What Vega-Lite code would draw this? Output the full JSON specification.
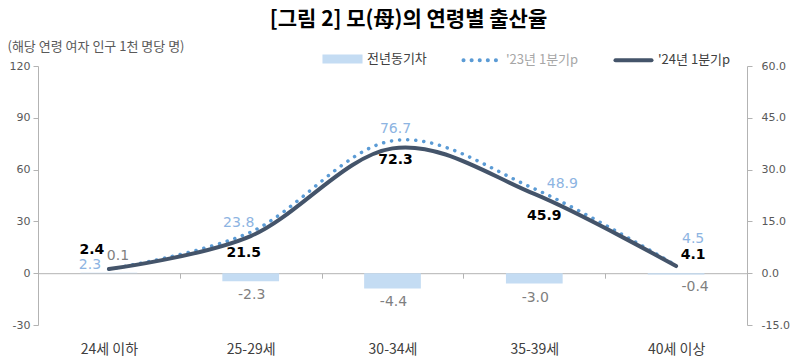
{
  "$schema": "https://vega.github.io/schema/vega-lite/v6.json",
  "width": 709,
  "height": 259,
  "autosize": {"type": "none"},
  "padding": {"left": 38, "top": 66, "right": 50, "bottom": 36},
  "background": "white",
  "title": {"text": "[그림 2] 모(母)의 연령별 출산율", "font": "Noto Sans CJK KR", "fontSize": 21, "fontWeight": "bold", "color": "#000000", "anchor": "middle", "frame": "group", "dx": 16, "offset": 8},
  "data": {"values": [
    {"cat": "24세 이하", "y23": 2.3, "y24": 2.4, "diff": 0.1},
    {"cat": "25-29세", "y23": 23.8, "y24": 21.5, "diff": -2.3},
    {"cat": "30-34세", "y23": 76.7, "y24": 72.3, "diff": -4.4},
    {"cat": "35-39세", "y23": 48.9, "y24": 45.9, "diff": -3.0},
    {"cat": "40세 이상", "y23": 4.5, "y24": 4.1, "diff": -0.4}
  ]},
  "encoding": {
    "x": {"field": "cat", "type": "nominal", "sort": null,
      "scale": {"paddingInner": 0, "paddingOuter": 0},
      "axis": {"title": null, "domainColor": "#b3b3b3", "ticks": true, "tickBand": "extent", "tickSize": 5, "tickColor": "#b3b3b3", "offset": -51.8, "labelPadding": 64, "labelFont": "Noto Sans CJK KR", "labelFontSize": 14, "labelColor": "#404040", "labelAngle": 0}}
  },
  "layer": [
    {
      "encoding": {"y": {"field": "diff", "type": "quantitative", "scale": {"domain": [-15, 60], "nice": false},
        "axis": {"orient": "right", "values": [-15, 0, 15, 30, 45, 60], "format": ".1f", "title": null, "grid": false, "domainColor": "#b3b3b3", "tickColor": "#b3b3b3", "tickSize": 5, "labelFont": "DejaVu Sans", "labelFontSize": 11, "labelColor": "#595959", "labelPadding": 9}}},
      "layer": [
        {"mark": {"type": "bar", "width": {"band": 0.4}},
         "encoding": {"color": {"datum": "전년동기차",
           "scale": {"domain": ["전년동기차", "'23년 1분기p", "'24년 1분기p"], "range": ["#c4dcf3", "#5b9bd5", "#44546a"]},
           "legend": {"orient": "none", "legendX": 284, "legendY": -28, "direction": "horizontal", "title": null,
             "symbolType": "stroke", "symbolSize": 1300, "symbolStrokeWidth": 4,
             "labelFont": "Noto Sans CJK KR", "labelFontSize": 13, "labelColor": "#404040", "labelOffset": 4, "columnPadding": 28,
             "encode": {
               "symbols": {"update": {
                 "shape": {"signal": "datum.value === '전년동기차' ? 'M-1,-0.14H1V0.14H-1Z' : 'stroke'"},
                 "fill": {"signal": "datum.value === '전년동기차' ? '#c4dcf3' : 'transparent'"},
                 "stroke": {"signal": "indexof(datum.value, '23') >= 0 ? '#5b9bd5' : (indexof(datum.value, '24') >= 0 ? '#44546a' : 'transparent')"},
                 "strokeDash": {"signal": "indexof(datum.value, '23') >= 0 ? [0.1, 8] : []"},
                 "strokeCap": {"value": "round"},
                 "strokeWidth": {"value": 4},
                 "opacity": {"value": 1}
               }},
               "labels": {"update": {"fill": {"signal": "indexof(datum.value, '23') >= 0 ? '#a6a6a6' : '#404040'"}}}
             }}}}},
        {"transform": [{"filter": "datum.diff >= 0"}],
         "mark": {"type": "text", "dx": 9, "dy": -17, "font": "DejaVu Sans", "fontSize": 14, "color": "#7f7f7f"},
         "encoding": {"text": {"field": "diff", "format": ".1f"}}},
        {"transform": [{"filter": "datum.diff < 0 && datum.diff > -1"}],
         "mark": {"type": "text", "dx": 19, "dy": 12, "font": "DejaVu Sans", "fontSize": 14, "color": "#7f7f7f"},
         "encoding": {"text": {"field": "diff", "format": ".1f"}}},
        {"transform": [{"filter": "datum.diff <= -1"}],
         "mark": {"type": "text", "dx": 1, "dy": 14, "font": "DejaVu Sans", "fontSize": 14, "color": "#7f7f7f"},
         "encoding": {"text": {"field": "diff", "format": ".1f"}}}
      ]
    },
    {
      "layer": [
        {"mark": {"type": "line", "interpolate": "cardinal", "strokeWidth": 3.5, "strokeDash": [0.1, 8], "strokeCap": "round"},
         "encoding": {"y": {"field": "y23", "type": "quantitative", "title": "(해당 연령 여자 인구 1천 명당 명)", "scale": {"domain": [-30, 120], "nice": false},
           "axis": {"values": [-30, 0, 30, 60, 90, 120], "titleAngle": 0, "titleX": -31, "titleY": -20, "titleAlign": "left", "titleBaseline": "middle", "titleFont": "Noto Sans CJK KR", "titleFontSize": 13, "titleFontWeight": "normal", "titleColor": "#595959", "grid": false, "domainColor": "#b3b3b3", "tickColor": "#b3b3b3", "tickSize": 5, "labelFont": "DejaVu Sans", "labelFontSize": 11, "labelColor": "#595959", "labelPadding": 3}},
           "color": {"datum": "'23년 1분기p"}}},
        {"mark": {"type": "line", "interpolate": "cardinal", "strokeWidth": 4, "strokeCap": "round"},
         "encoding": {"y": {"field": "y24", "type": "quantitative", "title": "(해당 연령 여자 인구 1천 명당 명)"},
           "color": {"datum": "'24년 1분기p"}}},
        {"transform": [{"filter": "datum.cat === '24세 이하'"}],
         "mark": {"type": "text", "dx": -17, "dy": -19, "font": "DejaVu Sans", "fontSize": 14, "fontWeight": "bold", "color": "#000000"},
         "encoding": {"y": {"field": "y24", "type": "quantitative", "title": "(해당 연령 여자 인구 1천 명당 명)"}, "text": {"field": "y24", "format": ".1f"}}},
        {"transform": [{"filter": "datum.cat === '25-29세'"}],
         "mark": {"type": "text", "dx": -7, "dy": 17, "font": "DejaVu Sans", "fontSize": 14, "fontWeight": "bold", "color": "#000000"},
         "encoding": {"y": {"field": "y24", "type": "quantitative", "title": "(해당 연령 여자 인구 1천 명당 명)"}, "text": {"field": "y24", "format": ".1f"}}},
        {"transform": [{"filter": "datum.cat === '30-34세'"}],
         "mark": {"type": "text", "dx": 3, "dy": 12, "font": "DejaVu Sans", "fontSize": 14, "fontWeight": "bold", "color": "#000000"},
         "encoding": {"y": {"field": "y24", "type": "quantitative", "title": "(해당 연령 여자 인구 1천 명당 명)"}, "text": {"field": "y24", "format": ".1f"}}},
        {"transform": [{"filter": "datum.cat === '35-39세'"}],
         "mark": {"type": "text", "dx": 10, "dy": 22, "font": "DejaVu Sans", "fontSize": 14, "fontWeight": "bold", "color": "#000000"},
         "encoding": {"y": {"field": "y24", "type": "quantitative", "title": "(해당 연령 여자 인구 1천 명당 명)"}, "text": {"field": "y24", "format": ".1f"}}},
        {"transform": [{"filter": "datum.cat === '40세 이상'"}],
         "mark": {"type": "text", "dx": 17, "dy": -11, "font": "DejaVu Sans", "fontSize": 14, "fontWeight": "bold", "color": "#000000"},
         "encoding": {"y": {"field": "y24", "type": "quantitative", "title": "(해당 연령 여자 인구 1천 명당 명)"}, "text": {"field": "y24", "format": ".1f"}}},
        {"transform": [{"filter": "datum.cat === '24세 이하'"}],
         "mark": {"type": "text", "dx": -19, "dy": -4, "font": "DejaVu Sans", "fontSize": 14, "color": "#8db4e2"},
         "encoding": {"y": {"field": "y23", "type": "quantitative", "title": "(해당 연령 여자 인구 1천 명당 명)"}, "text": {"field": "y23", "format": ".1f"}}},
        {"transform": [{"filter": "datum.cat === '25-29세'"}],
         "mark": {"type": "text", "dx": -12, "dy": -9, "font": "DejaVu Sans", "fontSize": 14, "color": "#8db4e2"},
         "encoding": {"y": {"field": "y23", "type": "quantitative", "title": "(해당 연령 여자 인구 1천 명당 명)"}, "text": {"field": "y23", "format": ".1f"}}},
        {"transform": [{"filter": "datum.cat === '30-34세'"}],
         "mark": {"type": "text", "dx": 3, "dy": -12, "font": "DejaVu Sans", "fontSize": 14, "color": "#8db4e2"},
         "encoding": {"y": {"field": "y23", "type": "quantitative", "title": "(해당 연령 여자 인구 1천 명당 명)"}, "text": {"field": "y23", "format": ".1f"}}},
        {"transform": [{"filter": "datum.cat === '35-39세'"}],
         "mark": {"type": "text", "dx": 28, "dy": -5, "font": "DejaVu Sans", "fontSize": 14, "color": "#8db4e2"},
         "encoding": {"y": {"field": "y23", "type": "quantitative", "title": "(해당 연령 여자 인구 1천 명당 명)"}, "text": {"field": "y23", "format": ".1f"}}},
        {"transform": [{"filter": "datum.cat === '40세 이상'"}],
         "mark": {"type": "text", "dx": 17, "dy": -26, "font": "DejaVu Sans", "fontSize": 14, "color": "#8db4e2"},
         "encoding": {"y": {"field": "y23", "type": "quantitative", "title": "(해당 연령 여자 인구 1천 명당 명)"}, "text": {"field": "y23", "format": ".1f"}}}
      ]
    }
  ],
  "resolve": {"scale": {"y": "independent"}},
  "config": {"view": {"stroke": null}, "font": "Noto Sans CJK KR",
    "locale": {"number": {"decimal": ".", "thousands": ",", "grouping": [3], "currency": ["", ""], "minus": "-"}}}
}
